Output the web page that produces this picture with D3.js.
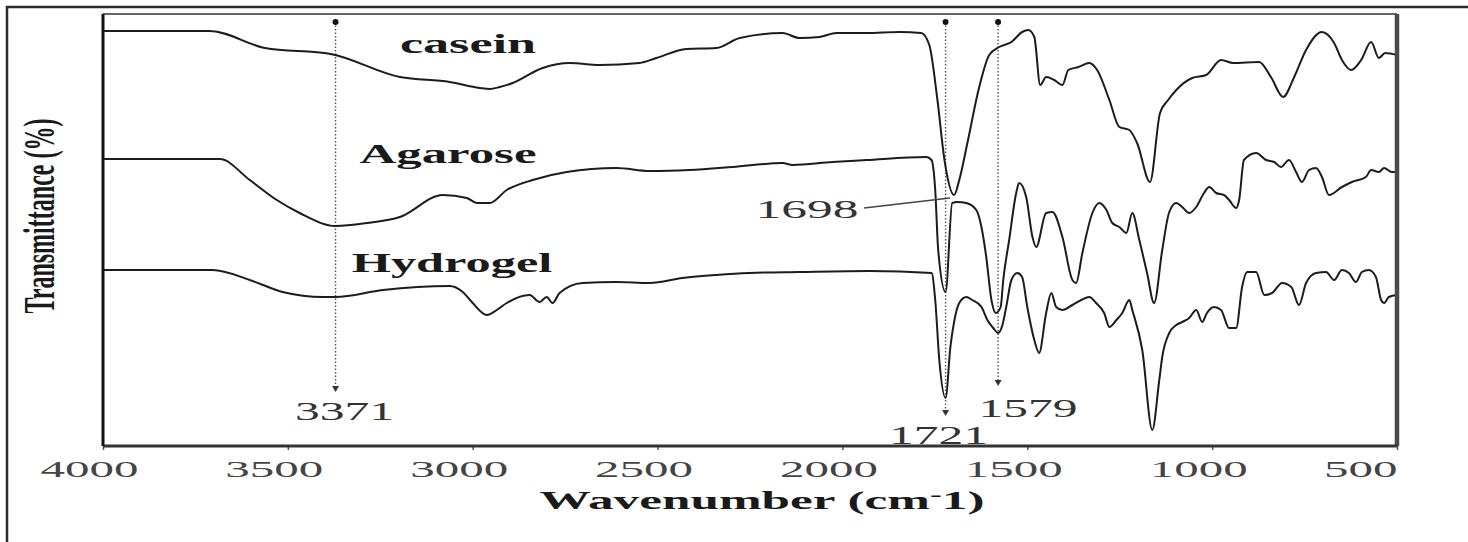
<!DOCTYPE html>
<html>
<head>
<meta charset="utf-8">
<script src="https://cdn.jsdelivr.net/npm/d3@7"></script>
<style>
  html, body { margin: 0; padding: 0; background: #fff; }
  svg { display: block; }
</style>
</head>
<body>
<svg width="1468" height="542"></svg>
<script>
// FTIR spectra, wavenumber (cm-1) vs stacked transmittance (a.u.)
const wnCasein = [4000,3711,3562,3384,3197,3062,2981,2954,2927,2892,2811,2738,2657,2549,2503,2422,2341,2278,2162,2116,2062,2016,1935,1846,1787,1765,1743,1724,1698,1684,1662,1630,1603,1576,1543,1514,1497,1481,1465,1449,1427,1405,1389,1362,1332,1311,1278,1251,1224,1203,1168,1141,1119,1097,1054,1016,976,943,873,841,808,778,746,703,670,649,624,597,570,549,532,500];
const tCasein = [103.75,103.75,99.5,98,92.25,91,89.5,89.25,89.75,90.75,94.5,95.75,95.25,95.75,97,99.25,99.5,102,103.25,102,102.25,103.25,103.25,103.5,103.25,100.25,86.5,71.5,62.75,66.5,75.75,89.75,97.75,99.75,101,103.5,104,102.25,90.25,92.25,91.5,90.25,94,94.75,95.75,94,86.5,79.75,79,75.75,66,83.25,86.5,89,92,92.75,96.5,95.75,96,92.25,87.25,92.25,99,103.5,100.75,96.5,94,96.5,101,97,98.25,97.75];

const wnAgarose = [4000,3684,3603,3530,3468,3371,3286,3197,3081,3016,2989,2954,2908,2838,2746,2611,2522,2414,2297,2162,2135,2027,1935,1773,1759,1749,1741,1721,1703,1689,1665,1638,1624,1611,1597,1585,1572,1565,1549,1530,1522,1503,1486,1476,1449,1432,1405,1378,1368,1351,1324,1305,1286,1270,1251,1232,1216,1197,1176,1157,1135,1116,1097,1081,1062,1043,1022,1008,989,968,954,935,927,914,881,854,832,814,792,773,757,738,719,703,684,649,622,584,570,549,535,514,500];
const tAgarose = [71.75,71.75,66.5,61.5,58.25,55,55.75,57.25,62.75,62,60.75,60.75,64,66.5,68.5,69.5,68.75,69,69.75,70.75,70.25,71,71.5,72.25,71.5,64,49,38.5,60.75,61,60.75,59,54.75,47.25,36.5,33.25,34.75,41.5,51.5,63.25,65.75,62.25,52.25,49.75,58.25,58.5,52.25,41.5,40.75,48.25,58.25,60.75,59,55.75,54.75,53.25,58.25,51.5,43.25,35.75,49,58.5,60.75,59.75,58.25,59.75,63.25,64.75,63.25,62.75,61.5,59.5,61.5,71.5,73.25,71.5,71,69.75,71.5,68.5,66,69,69.5,67.25,62.75,64.75,66,67.25,69,68.5,69.5,68.5,68.5];

const wnHydrogel = [4000,3703,3603,3514,3405,3371,3243,3062,3027,3000,2962,2935,2908,2846,2819,2800,2784,2765,2703,2611,2522,2432,2341,2251,2116,1927,1759,1749,1738,1721,1708,1697,1684,1665,1649,1624,1608,1592,1579,1568,1557,1543,1527,1514,1500,1481,1468,1449,1435,1422,1405,1378,1354,1332,1314,1292,1278,1259,1243,1224,1216,1189,1162,1143,1135,1116,1097,1081,1062,1043,1027,1014,995,976,954,935,919,905,881,859,838,811,786,765,746,719,692,670,649,630,611,595,576,557,543,535,522,500];
const tHydrogel = [44,44,41.5,38.5,37.25,37.25,39,40,38.5,35.75,32.75,34,35.75,37.75,36,37.25,35.75,38.25,40.75,41,40.75,42,42.75,43.25,43.5,43.75,43.25,36.5,21.5,12,24.75,31.5,35.75,37.25,36.5,34.75,31.5,29.5,28.25,30,34.75,41.5,43.25,42.25,34.75,26.5,23.25,33.25,38.25,34.75,34,35.25,36.5,37.25,35.75,33.25,29.75,31.5,33.25,36.5,34,24,4,16.5,22.25,28.25,30.25,31,32,34,31,33.25,34.75,34,29.5,29.5,39.75,43.5,43.5,37.75,38.25,40.75,39.75,35.25,40.75,43.25,43.5,41.5,44,43.25,41,43.5,44,42.25,36.5,35.75,37.25,37.75];

const seriesNames = ['casein', 'Agarose', 'Hydrogel'];
const xTicks = [4000, 3500, 3000, 2500, 2000, 1500, 1000, 500];
const peakWn = [3371, 1721, 1579];
const peakLabels = ['3371', '1721', '1579'];
const leaderWn = 1698, leaderLabel = '1698';

const serif = '"Liberation Serif", "Times New Roman", serif';
const svg = d3.select('svg');
const width = Number(svg.attr('width')), height = Number(svg.attr('height'));
const margin = {left: 103, right: 71, top: 14, bottom: 96};
const innerWidth = width - (margin.left + margin.right);
const innerHeight = height - (margin.top + margin.bottom);

// the old figure is stretched sideways: widen a centred text to a target width
const stretch = (sel, target) => sel.each(function() {
    const t = d3.select(this);
    const w = this.getBBox().width;
    const cx = +t.attr('x') || 0;
    const k = target / w;
    const prev = t.attr('transform') || '';
    t.attr('transform', `${prev} translate(${cx},0) scale(${k},1) translate(${-cx},0)`);
});

// outer picture border (top + left)
svg.append('path')
    .attr('d', `M7,${height} L7,7 L${width},7`)
    .attr('fill', 'none').attr('stroke', '#2b2b35').attr('stroke-width', 2.5);

const x = d3.scaleLinear().domain([4000, 500]).range([0, innerWidth]);
const y = d3.scaleLinear().domain([0, 108]).range([innerHeight, 0]);

const g = svg.append('g').attr('transform', `translate(${margin.left},${margin.top})`);

// x axis
const xAxis = g.append('g')
    .attr('transform', `translate(0,${innerHeight})`)
    .call(d3.axisBottom(x).tickValues(xTicks).tickSize(4).tickSizeOuter(0).tickFormat(d3.format('d')));
xAxis.attr('font-family', serif);
xAxis.select('.domain').remove();
xAxis.selectAll('.tick line').attr('stroke', '#555').attr('stroke-width', 1.5);
xAxis.selectAll('.tick text')
    .attr('y', 31).attr('dy', 0)
    .attr('font-family', serif).attr('font-size', 24).attr('fill', '#444')
    .each(function(d) {
        const len = String(d).length * 24.5;
        let dx = -14;
        const px = x(d);
        if (px + dx + len / 2 > innerWidth) dx = innerWidth - len / 2 - px;
        const t = d3.select(this).attr('x', dx);
        stretch(t, len);
    });

// axis titles
const xt = g.append('text')
    .attr('x', innerWidth / 2 + 12).attr('y', innerHeight + 63)
    .attr('text-anchor', 'middle').attr('font-family', serif)
    .attr('font-size', 26).attr('font-weight', 'bold').attr('fill', '#1a1a1a');
xt.append('tspan').text('Wavenumber (cm');
xt.append('tspan').attr('dy', -8).attr('font-size', 18).text('-');
xt.append('tspan').attr('dy', 8).text('1)');
stretch(xt, 445);

const yt = g.append('text')
    .attr('x', 0).attr('y', 0)
    .attr('transform', `translate(-49,${innerHeight / 2 - 14}) rotate(-90)`)
    .attr('text-anchor', 'middle').attr('font-family', serif)
    .attr('font-size', 44).attr('font-weight', 'bold').attr('fill', '#1a1a1a')
    .text('Transmittance (%)');
stretch(yt, 195);

// annotations (dotted guides)
const tipY = [378, 402, 372];
const labelY = [406, 430, 403];
const labelDx = [9, -7, 30];
peakWn.forEach((wn, i) => {
    const px = x(wn);
    g.append('line')
        .attr('x1', px).attr('x2', px).attr('y1', 8).attr('y2', tipY[i] - 5)
        .attr('stroke', '#555').attr('stroke-width', 1.4).attr('stroke-dasharray', '1.5,2');
    g.append('circle').attr('cx', px).attr('cy', 8).attr('r', 3).attr('fill', '#111');
    g.append('path')
        .attr('d', `M${px - 3.5},${tipY[i] - 6} L${px + 3.5},${tipY[i] - 6} L${px},${tipY[i]} Z`)
        .attr('fill', '#333');
    const lt = g.append('text')
        .attr('x', px + labelDx[i]).attr('y', labelY[i])
        .attr('text-anchor', 'middle').attr('font-family', serif)
        .attr('font-size', 25).attr('fill', '#333')
        .text(peakLabels[i]);
    stretch(lt, 99);
});

// spectra
const series = [
    {name: seriesNames[0], wn: wnCasein, t: tCasein},
    {name: seriesNames[1], wn: wnAgarose, t: tAgarose},
    {name: seriesNames[2], wn: wnHydrogel, t: tHydrogel}
];
const line = d3.line()
    .x(d => x(d[0]))
    .y(d => y(d[1]))
    .curve(d3.curveMonotoneX);

g.selectAll('path.spectrum').data(series)
    .enter().append('path')
        .attr('class', 'spectrum')
        .attr('d', s => line(d3.zip(s.wn, s.t)))
        .attr('fill', 'none')
        .attr('stroke', '#1c1c1c')
        .attr('stroke-width', 2)
        .attr('stroke-linejoin', 'round');

// 1698 leader
const lx = x(leaderWn);
g.append('line')
    .attr('x1', lx - 90).attr('y1', 194).attr('x2', lx - 4).attr('y2', 184)
    .attr('stroke', '#444').attr('stroke-width', 1.3);
const ll = g.append('text')
    .attr('x', lx - 147).attr('y', 204)
    .attr('text-anchor', 'middle').attr('font-family', serif)
    .attr('font-size', 25).attr('fill', '#333')
    .text(leaderLabel);
stretch(ll, 103);

// series labels
const nameX = [468, 448, 452];
const nameY = [39, 149, 258];
const nameLen = [137, 177, 201];
seriesNames.forEach((n, i) => {
    const st = g.append('text')
        .attr('x', nameX[i] - margin.left).attr('y', nameY[i])
        .attr('text-anchor', 'middle').attr('font-family', serif)
        .attr('font-size', 28).attr('font-weight', 'bold').attr('fill', '#1a1a1a')
        .text(n);
    stretch(st, nameLen[i]);
});

// plot frame
g.append('line').attr('x1', 0).attr('x2', innerWidth).attr('y1', 0).attr('y2', 0)
    .attr('stroke', '#666').attr('stroke-width', 2);
g.append('line').attr('x1', innerWidth).attr('x2', innerWidth).attr('y1', 0).attr('y2', innerHeight)
    .attr('stroke', '#4a4a4a').attr('stroke-width', 4.5);
g.append('line').attr('x1', 0).attr('x2', innerWidth).attr('y1', innerHeight).attr('y2', innerHeight)
    .attr('stroke', '#333').attr('stroke-width', 3);
g.append('line').attr('x1', 0).attr('x2', 0).attr('y1', 0).attr('y2', innerHeight)
    .attr('stroke', '#111').attr('stroke-width', 3);
</script>
</body>
</html>
